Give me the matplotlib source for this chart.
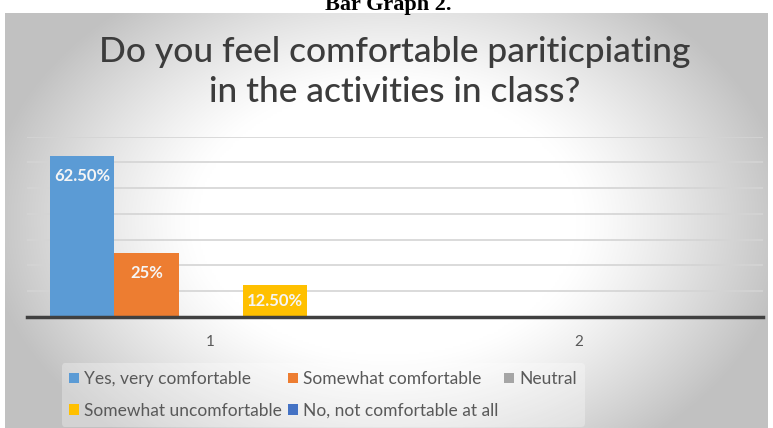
import numpy as np
import matplotlib
matplotlib.use("Agg")
import matplotlib.pyplot as plt
from matplotlib.patches import Patch

# ---- data ----
categories = ["1", "2"]
series_names = ["Yes, very comfortable", "Somewhat comfortable", "Neutral",
                "Somewhat uncomfortable", "No, not comfortable at all"]
yes_very = [62.5, 0]
somewhat_comf = [25, 0]
neutral = [0, 0]
somewhat_uncomf = [12.5, 0]
not_at_all = [0, 0]
value_labels = [["62.50%", ""], ["25%", ""], ["", ""], ["12.50%", ""], ["", ""]]
colors = ["#5B9BD5", "#ED7D31", "#A5A5A5", "#FFC000", "#4472C4"]
title = "Do you feel comfortable pariticpiating\nin the activities in class?"
caption = "Bar Graph 2."

series = [yes_very, somewhat_comf, neutral, somewhat_uncomf, not_at_all]

W, H = 773, 428
fig = plt.figure(figsize=(W / 100, H / 100), dpi=100)

# ---- radial gradient background of chart area ----
bg = fig.add_axes([5 / W, 0, 763 / W, (H - 13) / H], zorder=-10)
ny, nx = 200, 360
yy, xx = np.mgrid[0:ny, 0:nx]
dx = (xx - nx * 0.5) / (nx * 0.5)
dy = (yy - ny * 0.5) / (ny * 0.65)
r = np.sqrt(dx ** 2 + dy ** 2)
t = np.clip((r - 0.5) / 0.55, 0, 1)
g = 1 - 0.24 * t ** 1.2
img = np.dstack([g, g, g])
bg.imshow(img, aspect="auto", extent=[0, 1, 0, 1], origin="upper", interpolation="bilinear")
bg.set_axis_off()

# ---- plot area ----
ax = fig.add_axes([26.7 / W, 1 - 317 / H, (762.7 - 26.7) / W, (317 - 136.7) / H])
ax.patch.set_alpha(0)
n = len(series)
bw = 0.1747
x = np.arange(len(categories))
handles = []
for i, (vals, name, c) in enumerate(zip(series, series_names, colors)):
    pos = x + (i - (n - 1) / 2) * bw
    ax.bar(pos, vals, width=bw, color=c, zorder=3, label=name)
    handles.append(Patch(facecolor=c, label=name))
    for p, v, lab in zip(pos, vals, value_labels[i]):
        if lab:
            ax.text(p, v - min(7.76, v / 2), lab, ha="center", va="center",
                    color="#F5F5F5", fontsize=12, fontweight="bold",
                    family="Lato", zorder=4)

ax.set_xlim(-0.5, len(categories) - 0.5)
ax.set_ylim(0, 70)
ax.set_yticks(np.arange(10, 71, 10))
ax.yaxis.grid(True, color="#D4D4D4", linewidth=1.2, zorder=0)
ax.set_yticklabels([])
ax.tick_params(axis="y", length=0)
ax.set_xticks(x)
ax.set_xticklabels(categories, color="#595959", fontsize=11, family="Lato")
ax.tick_params(axis="x", length=0, pad=13)
for s in ["top", "right", "left"]:
    ax.spines[s].set_visible(False)
ax.spines["bottom"].set_color("#404040")
ax.spines["bottom"].set_linewidth(2.5)
ax.spines["bottom"].set_zorder(5)

# ---- title & caption ----
fig.text(395 / W, 1 - 72 / H, title, ha="center", va="center", fontsize=25.5,
         color="#3C3C3C", family="Lato", linespacing=1.3, fontweight="medium")
fig.text(388 / W, 1 - 10 / H, caption, ha="center", va="baseline", fontsize=16,
         fontweight="bold", family="Liberation Serif", color="black")

# ---- legend (row-wise order for 3 columns) ----
order = [0, 3, 1, 4, 2]
leg = fig.legend([handles[k] for k in order], [series_names[k] for k in order],
                 ncol=3, loc="center left", bbox_to_anchor=(53 / W, 1 - 395 / H),
                 frameon=True, handlelength=0.55, handleheight=0.55,
                 handletextpad=0.3, columnspacing=0.35, labelspacing=0.9,
                 borderpad=0.45, prop={"family": "Lato", "size": 12.5})
leg.get_frame().set_facecolor("white")
leg.get_frame().set_alpha(0.3)
leg.get_frame().set_edgecolor("none")
for tx in leg.get_texts():
    tx.set_color("#595959")

fig.savefig("out.png", dpi=100)
